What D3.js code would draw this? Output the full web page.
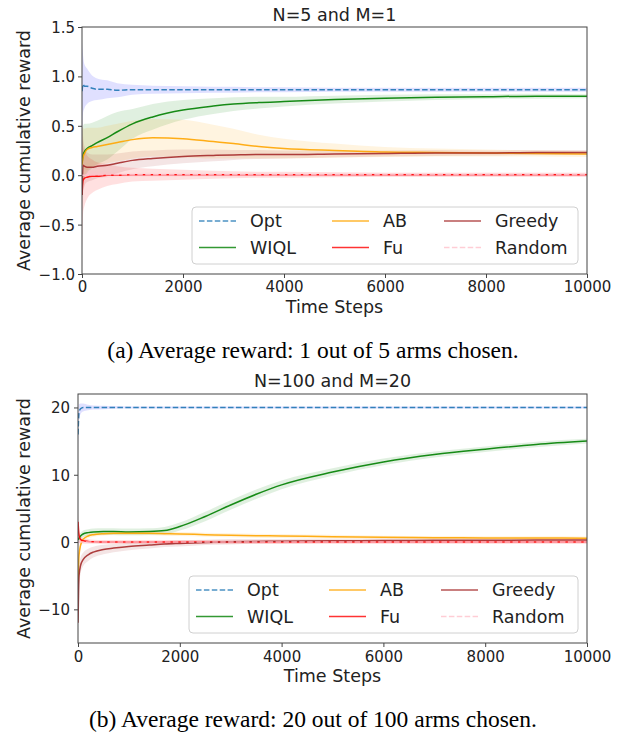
<!DOCTYPE html>
<html>
<head lang="en">
  <meta charset="UTF-8">
  <title>Average cumulative reward</title>
</head>
<style>
  body { margin: 0; background: #fff; }
  svg text { font-family: "DejaVu Sans", sans-serif; fill: #222; }
  svg text.caption { font-family: "Liberation Serif", "Times New Roman", serif; fill: #000; }
  .axis path, .axis line { stroke: #444; }
</style>
<body>

<svg id="chart" width="624" height="732"></svg>

<script src="https://cdn.jsdelivr.net/npm/d3@7"></script>
<script>
  // ---- data ----
  var seriesNames = ['Opt', 'WIQL', 'AB', 'Fu', 'Greedy', 'Random'];

  // panel (a): N=5, M=1
  var stepsA = [1, 20, 50, 100, 200, 300, 500, 700, 1000, 1400, 2000, 2600, 3000, 3500, 4000, 5000, 6000, 7000, 8000, 9000, 10000];
  var optA    = [0.85, 0.92, 0.90, 0.90, 0.88, 0.87, 0.87, 0.86, 0.865, 0.865, 0.865, 0.865, 0.865, 0.865, 0.865, 0.865, 0.865, 0.865, 0.865, 0.865, 0.865];
  var optBandA = [0.5, 0.3, 0.22, 0.18, 0.13, 0.11, 0.09, 0.07, 0.05, 0.04, 0.035, 0.03, 0.03, 0.025, 0.025, 0.02, 0.02, 0.02, 0.02, 0.02, 0.02];
  var wiqlA   = [0.12, 0.2, 0.24, 0.27, 0.3, 0.33, 0.38, 0.44, 0.52, 0.59, 0.66, 0.7, 0.72, 0.735, 0.745, 0.765, 0.78, 0.79, 0.795, 0.8, 0.8];
  var wiqlBandA = [0.35, 0.3, 0.28, 0.25, 0.23, 0.22, 0.22, 0.2, 0.15, 0.13, 0.1, 0.08, 0.07, 0.06, 0.05, 0.04, 0.035, 0.03, 0.025, 0.025, 0.02];
  var abA     = [0.1, 0.18, 0.22, 0.26, 0.28, 0.29, 0.31, 0.33, 0.36, 0.38, 0.37, 0.34, 0.32, 0.29, 0.27, 0.25, 0.235, 0.23, 0.225, 0.22, 0.215];
  var abBandA = [0.4, 0.3, 0.25, 0.22, 0.2, 0.19, 0.19, 0.19, 0.19, 0.19, 0.19, 0.17, 0.15, 0.12, 0.1, 0.07, 0.05, 0.04, 0.035, 0.03, 0.03];
  var fuA     = [-0.2, -0.05, -0.03, -0.02, -0.01, -0.01, 0.0, 0.0, 0.005, 0.005, 0.005, 0.005, 0.005, 0.005, 0.005, 0.005, 0.005, 0.005, 0.005, 0.005, 0.005];
  var fuBandA = [0.6, 0.35, 0.28, 0.22, 0.17, 0.14, 0.11, 0.09, 0.07, 0.06, 0.05, 0.04, 0.035, 0.03, 0.03, 0.025, 0.02, 0.02, 0.02, 0.02, 0.02];
  var greedyA = [-0.2, 0.1, 0.09, 0.08, 0.08, 0.09, 0.1, 0.12, 0.15, 0.17, 0.19, 0.2, 0.205, 0.21, 0.21, 0.215, 0.22, 0.225, 0.225, 0.23, 0.23];
  var greedyBandA = [0.8, 0.3, 0.2, 0.15, 0.13, 0.12, 0.11, 0.1, 0.09, 0.08, 0.07, 0.06, 0.05, 0.045, 0.04, 0.035, 0.03, 0.03, 0.025, 0.025, 0.025];
  var randomA = [0.0, 0.0, 0.0, 0.005, 0.005, 0.005, 0.005, 0.005, 0.005, 0.005, 0.005, 0.005, 0.005, 0.005, 0.005, 0.005, 0.005, 0.005, 0.005, 0.005, 0.005];
  var randomBandA = [0.3, 0.1, 0.06, 0.05, 0.04, 0.03, 0.03, 0.02, 0.02, 0.02, 0.02, 0.02, 0.02, 0.02, 0.02, 0.02, 0.02, 0.02, 0.02, 0.02, 0.02];
  var yTicksA = [-1.0, -0.5, 0.0, 0.5, 1.0, 1.5];

  // panel (b): N=100, M=20
  var stepsB = [1, 20, 50, 100, 200, 300, 500, 700, 1000, 1400, 1700, 2000, 2500, 3000, 3500, 4000, 5000, 6000, 7000, 8000, 9000, 10000];
  var optB    = [16, 19.3, 19.8, 20, 20, 20, 20, 20, 20, 20, 20, 20, 20, 20, 20, 20, 20, 20, 20, 20, 20, 20];
  var optBandB = [3, 1.2, 0.8, 0.6, 0.4, 0.3, 0.25, 0.2, 0.15, 0.15, 0.15, 0.15, 0.15, 0.15, 0.15, 0.15, 0.15, 0.15, 0.15, 0.15, 0.15, 0.15];
  var wiqlB   = [0.3, 0.6, 0.9, 1.2, 1.4, 1.5, 1.55, 1.55, 1.5, 1.55, 1.7, 2.3, 3.8, 5.5, 7.1, 8.5, 10.4, 11.9, 13.0, 13.8, 14.5, 15.0];
  var wiqlBandB = [0.8, 0.6, 0.5, 0.5, 0.5, 0.5, 0.5, 0.5, 0.5, 0.5, 0.55, 0.6, 0.7, 0.7, 0.7, 0.65, 0.55, 0.5, 0.45, 0.4, 0.4, 0.35];
  var abB     = [-6, -2, -0.5, 0.4, 0.9, 1.1, 1.25, 1.3, 1.3, 1.3, 1.25, 1.2, 1.1, 1.0, 0.95, 0.9, 0.8, 0.7, 0.65, 0.62, 0.6, 0.58];
  var abBandB = [2.5, 1, 0.6, 0.4, 0.35, 0.3, 0.3, 0.3, 0.3, 0.3, 0.3, 0.3, 0.3, 0.3, 0.3, 0.3, 0.28, 0.25, 0.25, 0.25, 0.25, 0.25];
  var fuB     = [3, 1, 0.4, 0.2, 0.1, 0.05, 0.0, 0.0, 0.0, 0.0, 0.0, 0.0, 0.0, 0.0, 0.0, 0.0, 0.0, 0.0, 0.0, 0.0, 0.0, 0.0];
  var fuBandB = [2, 0.8, 0.5, 0.4, 0.35, 0.3, 0.3, 0.3, 0.3, 0.3, 0.3, 0.3, 0.3, 0.3, 0.3, 0.3, 0.3, 0.3, 0.3, 0.3, 0.3, 0.3];
  var greedyB = [-12, -5, -3.5, -2.6, -1.9, -1.5, -1.1, -0.9, -0.65, -0.45, -0.3, -0.2, -0.05, 0.05, 0.1, 0.12, 0.18, 0.22, 0.25, 0.27, 0.29, 0.3];
  var greedyBandB = [4, 1.5, 1.2, 1.0, 0.9, 0.8, 0.7, 0.6, 0.55, 0.5, 0.45, 0.45, 0.4, 0.4, 0.35, 0.35, 0.3, 0.3, 0.3, 0.3, 0.3, 0.3];
  var randomB = [0, 0, 0, 0, 0, 0, 0, 0, 0, 0, 0, 0, 0, 0, 0, 0, 0, 0, 0, 0, 0, 0];
  var randomBandB = [1, 0.4, 0.3, 0.2, 0.15, 0.15, 0.15, 0.15, 0.15, 0.15, 0.15, 0.15, 0.15, 0.15, 0.15, 0.15, 0.15, 0.15, 0.15, 0.15, 0.15, 0.15];
  var yTicksB = [-10, 0, 10, 20];

  var xTicks = [0, 2000, 4000, 6000, 8000, 10000];

  // ---- styles per series ----
  var lineColor = { Opt: '#1f77b4', WIQL: 'green', AB: 'orange', Fu: 'red', Greedy: 'brown', Random: 'pink' };
  var bandColor = { Opt: 'blue', WIQL: 'green', AB: 'orange', Fu: 'red', Greedy: 'brown', Random: 'pink' };
  var dashed = { Opt: '5.5,2.4', Random: '5.5,2.4' };

  var chart = d3.select('#chart');

  drawPanel({
    top: 27, bottom: 274, left: 82, right: 587,
    yDomain: [-1.0, 1.5], yTicks: yTicksA, yFormat: d3.format('.1f'), yLabelX: 75,
    title: 'N=5 and M=1', titleY: 21,
    xLabelY: 313, tickY: 292,
    caption: '(a) Average reward: 1 out of 5 arms chosen.', captionY: 358,
    legend: { x: 192, y: 207, w: 386, h: 57 },
    steps: stepsA,
    series: { Opt: [optA, optBandA], WIQL: [wiqlA, wiqlBandA], AB: [abA, abBandA],
              Fu: [fuA, fuBandA], Greedy: [greedyA, greedyBandA], Random: [randomA, randomBandA] }
  });

  drawPanel({
    top: 394, bottom: 643, left: 78, right: 587,
    yDomain: [-15, 22], yTicks: yTicksB, yFormat: d3.format('d'), yLabelX: 70,
    title: 'N=100 and M=20', titleY: 387,
    xLabelY: 682, tickY: 662,
    caption: '(b) Average reward: 20 out of 100 arms chosen.', captionY: 727,
    legend: { x: 189, y: 576, w: 389, h: 57 },
    steps: stepsB,
    series: { Opt: [optB, optBandB], WIQL: [wiqlB, wiqlBandB], AB: [abB, abBandB],
              Fu: [fuB, fuBandB], Greedy: [greedyB, greedyBandB], Random: [randomB, randomBandB] }
  });

  function drawPanel(p) {
    var x = d3.scaleLinear().domain([0, 10000]).range([p.left, p.right]);
    var y = d3.scaleLinear().domain(p.yDomain).range([p.bottom, p.top]);

    var g = chart.append('g');
    var clipId = 'clip' + p.top;
    g.append('clipPath').attr('id', clipId)
      .append('rect')
      .attr('x', p.left).attr('y', p.top)
      .attr('width', p.right - p.left).attr('height', p.bottom - p.top);

    var plot = g.append('g').attr('clip-path', 'url(#' + clipId + ')');

    // bands first, then lines, in legend order
    seriesNames.forEach(function(name) {
      var mean = p.series[name][0], half = p.series[name][1];
      var rows = p.steps.map(function(t, i) { return { t: t, m: mean[i], h: half[i] }; });
      var area = d3.area()
        .x(function(d) { return x(d.t); })
        .y0(function(d) { return y(d.m - d.h); })
        .y1(function(d) { return y(d.m + d.h); })
        .curve(d3.curveMonotoneX);
      plot.append('path').datum(rows)
        .attr('d', area)
        .attr('fill', bandColor[name])
        .attr('fill-opacity', name === 'Random' ? 0.25 : 0.12);
    });

    seriesNames.forEach(function(name) {
      var mean = p.series[name][0];
      var rows = p.steps.map(function(t, i) { return { t: t, m: mean[i] }; });
      var line = d3.line()
        .x(function(d) { return x(d.t); })
        .y(function(d) { return y(d.m); })
        .curve(d3.curveMonotoneX);
      plot.append('path').datum(rows)
        .attr('d', line)
        .attr('fill', 'none')
        .attr('stroke', lineColor[name])
        .attr('stroke-width', 1.5)
        .attr('stroke-opacity', 0.9)
        .attr('stroke-dasharray', dashed[name] || null);
    });

    // axes
    var xAxis = g.append('g').attr('class', 'axis')
      .attr('transform', 'translate(0,' + p.bottom + ')')
      .call(d3.axisBottom(x).tickValues(xTicks).tickFormat(d3.format('d')).tickSize(4).tickPadding(3));
    xAxis.selectAll('text').attr('font-size', 15).attr('y', null).attr('dy', null)
      .attr('transform', 'translate(0,' + (p.tickY - p.bottom) + ')');

    var yAxis = g.append('g').attr('class', 'axis')
      .attr('transform', 'translate(' + p.left + ',0)')
      .call(d3.axisLeft(y).tickValues(p.yTicks).tickFormat(function(d) { return p.yFormat(d).replace('-', '\u2212'); }).tickSize(4));
    yAxis.selectAll('text').attr('font-size', 15).attr('x', p.yLabelX - p.left).attr('dy', '0.36em');
    g.selectAll('.axis .domain').remove();

    // frame
    g.append('rect')
      .attr('x', p.left).attr('y', p.top)
      .attr('width', p.right - p.left).attr('height', p.bottom - p.top)
      .attr('fill', 'none').attr('stroke', '#444').attr('stroke-width', 1);

    // labels
    g.append('text').attr('x', (p.left + p.right) / 2).attr('y', p.titleY)
      .attr('text-anchor', 'middle').attr('font-size', 17.5).text(p.title);
    g.append('text').attr('x', (p.left + p.right) / 2).attr('y', p.xLabelY)
      .attr('text-anchor', 'middle').attr('font-size', 17.5).text('Time Steps');
    g.append('text')
      .attr('transform', 'translate(30,' + ((p.top + p.bottom) / 2) + ') rotate(-90)')
      .attr('text-anchor', 'middle').attr('font-size', 17.5).text('Average cumulative reward');
    g.append('text').attr('class', 'caption').attr('x', 313).attr('y', p.captionY)
      .attr('text-anchor', 'middle').attr('font-size', 23.5).text(p.caption);

    // legend, three columns
    var L = p.legend;
    var lg = g.append('g');
    lg.append('rect')
      .attr('x', L.x).attr('y', L.y).attr('width', L.w).attr('height', L.h)
      .attr('rx', 4).attr('fill', 'white').attr('fill-opacity', 0.8)
      .attr('stroke', '#d0d0d0');
    var colX = [L.x + 7, L.x + 140, L.x + 252];
    seriesNames.forEach(function(name, i) {
      var cx = colX[Math.floor(i / 2)];
      var cy = L.y + 14 + (i % 2) * 26.5;
      lg.append('line')
        .attr('x1', cx).attr('x2', cx + 37).attr('y1', cy).attr('y2', cy)
        .attr('stroke', lineColor[name]).attr('stroke-width', 1.5).attr('stroke-opacity', 0.8)
        .attr('stroke-dasharray', dashed[name] || null);
      lg.append('text').attr('x', cx + 51).attr('y', cy).attr('dy', '0.36em')
        .attr('font-size', 17.5).text(name);
    });
  }
</script>
</body>
</html>
